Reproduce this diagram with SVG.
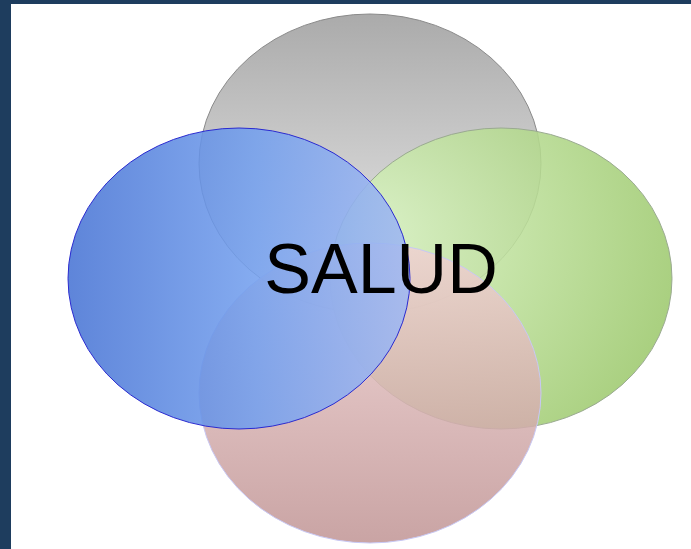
<svg xmlns="http://www.w3.org/2000/svg" width="691" height="549" viewBox="0 0 691 549">
<defs>
<linearGradient id="gGray" x1="0" y1="0" x2="0" y2="1"><stop offset="0" stop-color="#a6a6a6"/><stop offset="1" stop-color="#efefef"/></linearGradient>
<linearGradient id="gBlue" x1="0" y1="0" x2="1" y2="0"><stop offset="0" stop-color="#4874d4"/><stop offset="0.55" stop-color="#74a0ee"/><stop offset="1" stop-color="#a0b8f2"/></linearGradient>
<radialGradient id="gGreen" cx="0.1" cy="0.35" r="0.95"><stop offset="0" stop-color="#daf4c4"/><stop offset="1" stop-color="#9cc86c"/></radialGradient>
<linearGradient id="gPink" x1="0" y1="0" x2="0" y2="1"><stop offset="0" stop-color="#f0d2d2"/><stop offset="1" stop-color="#c09494"/></linearGradient>
<style>
.e{stroke-width:1}
.t{font-family:"Liberation Sans",Arial,sans-serif;font-size:70px;fill:#000}
</style>
</defs>
<rect x="0" y="0" width="691" height="549" fill="#1e3d5e"/>
<rect x="11" y="4" width="680" height="545" fill="#ffffff"/>
<g id="gray"><ellipse class="e" cx="370" cy="163.5" rx="171" ry="149.5" fill="url(#gGray)" fill-opacity="0.95" stroke="#8a8a8a"/></g>
<g id="green"><ellipse class="e" cx="501" cy="278.5" rx="171" ry="150.5" fill="url(#gGreen)" fill-opacity="0.88" stroke="#9aaa90"/></g>
<g id="pink"><ellipse class="e" cx="370" cy="393" rx="171" ry="150" fill="url(#gPink)" fill-opacity="0.85" stroke="#c8c8f4"/></g>
<g id="blue"><ellipse class="e" cx="239" cy="278.5" rx="171" ry="150.5" fill="url(#gBlue)" fill-opacity="0.88" stroke="#2a2ad0"/></g>
<g id="label"><text class="t" x="381" y="293" text-anchor="middle">SALUD</text></g>
</svg>
